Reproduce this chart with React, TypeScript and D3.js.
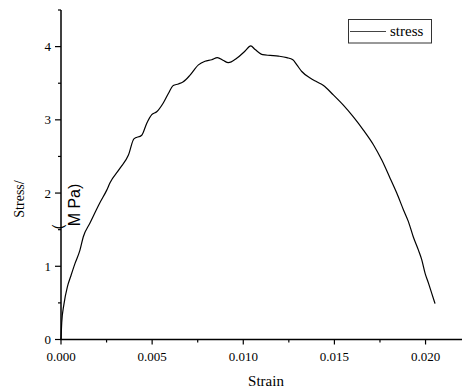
import React from "react";
import * as d3 from "d3";

const strain = [
  0, 0.00004, 0.00016, 0.00035, 0.00053, 0.00077, 0.00104, 0.00122, 0.00159, 0.00214,
  0.00251, 0.00269, 0.00324, 0.0037, 0.004, 0.00443, 0.0047, 0.00498, 0.00525, 0.00561,
  0.00589, 0.00616, 0.00644, 0.00671, 0.00708, 0.00754, 0.0079, 0.00827, 0.00858, 0.00891,
  0.00918, 0.00964, 0.0101, 0.01041, 0.01065, 0.01107, 0.01147, 0.01193, 0.01239, 0.01272,
  0.01294, 0.01321, 0.01367, 0.01403, 0.0144, 0.01494, 0.01549, 0.01604, 0.01659, 0.01714,
  0.0176, 0.01806, 0.01842, 0.01879, 0.01906, 0.01933, 0.01961, 0.01979, 0.01998, 0.02016,
  0.02034, 0.02052,
];
const stress = [
  0, 0.23, 0.48, 0.72, 0.86, 1.04, 1.22, 1.4, 1.59, 1.87,
  2.04, 2.14, 2.34, 2.52, 2.74, 2.79, 2.95, 3.07, 3.11, 3.23,
  3.36, 3.47, 3.49, 3.52, 3.61, 3.75, 3.8, 3.82, 3.85, 3.81,
  3.78, 3.84, 3.94, 4.01, 3.96, 3.89, 3.88, 3.87, 3.85, 3.82,
  3.75, 3.66, 3.57, 3.52, 3.47, 3.34, 3.2, 3.04, 2.86, 2.66,
  2.45, 2.2, 2.0, 1.77, 1.61, 1.4, 1.22, 1.09, 0.9, 0.77,
  0.63, 0.49,
];
const xMajor = [0, 0.005, 0.01, 0.015, 0.02];
const xMinor = [0.0025, 0.0075, 0.0125, 0.0175];
const yMajor = [0, 1, 2, 3, 4];
const yMinor = [0.5, 1.5, 2.5, 3.5, 4.5];
const seriesName = "stress";
const xTitle = "Strain";

const W = 463;
const H = 392;

export default function App() {
  const x = d3.scaleLinear().domain([0, 0.022]).range([61, 462]);
  const y = d3.scaleLinear().domain([0, 4.5]).range([339.5, 10]);
  const pts = strain.map((s, i) => [s, stress[i]] as [number, number]);
  const line = d3
    .line<[number, number]>()
    .x((d) => x(d[0]))
    .y((d) => y(d[1]))
    .curve(d3.curveMonotoneX);
  const serif = { fontFamily: "'Liberation Serif', 'Times New Roman', serif" };
  const sans = { fontFamily: "'Liberation Sans', Arial, sans-serif" };
  return (
    <svg
      width={W}
      height={H}
      style={{ position: "absolute", left: 0, top: 0, background: "#fff" }}
    >
      <path d={line(pts) || ""} fill="none" stroke="#000" strokeWidth={1.2} />
      <line x1={x(0)} x2={x(0)} y1={y(4.5)} y2={y(0)} stroke="#000" strokeWidth={1.5} />
      <line x1={x(0) - 0.75} x2={x(0.022)} y1={y(0)} y2={y(0)} stroke="#000" strokeWidth={1.5} />
      {xMajor.map((v) => (
        <g key={"xm" + v}>
          <line x1={x(v)} x2={x(v)} y1={y(0)} y2={y(0) + 5} stroke="#000" strokeWidth={1.2} />
          <text x={x(v)} y={360.5} textAnchor="middle" style={serif} fontSize={13} fill="#000">
            {v.toFixed(3)}
          </text>
        </g>
      ))}
      {xMinor.map((v) => (
        <line key={"xn" + v} x1={x(v)} x2={x(v)} y1={y(0)} y2={y(0) + 3} stroke="#000" strokeWidth={1.2} />
      ))}
      {yMajor.map((v) => (
        <g key={"ym" + v}>
          <line x1={x(0) - 6} x2={x(0)} y1={y(v)} y2={y(v)} stroke="#000" strokeWidth={1.2} />
          <text x={51} y={y(v) + 4.5} textAnchor="end" style={serif} fontSize={13} fill="#000">
            {v}
          </text>
        </g>
      ))}
      {yMinor.map((v) => (
        <line key={"yn" + v} x1={x(0) - 3} x2={x(0)} y1={y(v)} y2={y(v)} stroke="#000" strokeWidth={1.2} />
      ))}
      <text x={266} y={386} textAnchor="middle" style={serif} fontSize={15} fill="#000">
        {xTitle}
      </text>
      <text
        transform="translate(24,199) rotate(-90)"
        textAnchor="middle"
        style={serif}
        fontSize={14}
        fill="#000"
      >
        Stress/
      </text>
      <text
        transform="translate(80,205) rotate(-90)"
        textAnchor="middle"
        style={sans}
        fontSize={16}
        fill="#000"
      >
        M Pa)
      </text>
      <text
        transform="translate(63,227) rotate(-90)"
        textAnchor="middle"
        style={sans}
        fontSize={14}
        fill="#000"
      >
        (
      </text>
      <rect x={348.5} y={19.5} width={83} height={23.5} fill="#fff" stroke="#333" strokeWidth={1} />
      <line x1={350} x2={386} y1={31.5} y2={31.5} stroke="#444" strokeWidth={1.2} />
      <text x={390} y={36} style={serif} fontSize={15} fill="#000">
        {seriesName}
      </text>
    </svg>
  );
}
